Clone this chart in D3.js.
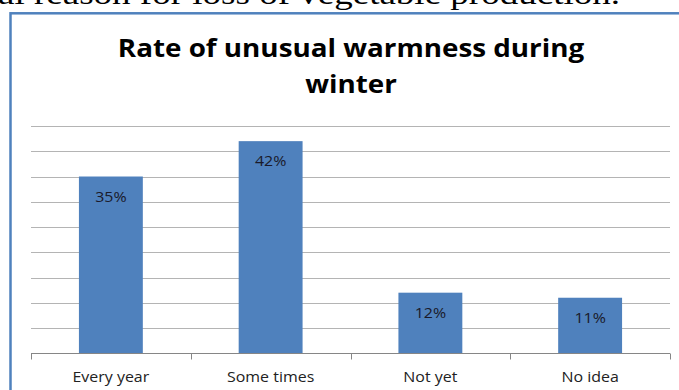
<!DOCTYPE html>
<html>
<head>
<meta charset="utf-8">
<script src="https://cdn.jsdelivr.net/npm/d3@7"></script>
<style>
  html, body { margin: 0; padding: 0; background: #fff; overflow: hidden; }
  svg { display: block; }
</style>
</head>
<body>
<svg id="chart" width="679" height="390"></svg>
<script>
// Survey answers and their shares (percent)
const categories = ["Every year", "Some times", "Not yet", "No idea"];
const shares = [35, 42, 12, 11];
const gridTicks = [5, 10, 15, 20, 25, 30, 35, 40, 45];
const titleLines = ["Rate of unusual warmness during", "winter"];
const captionTail = "al reason for loss of vegetable production.";

const plot = { left: 31, right: 670, top: 126, bottom: 353.3 };
const barColor = "#4F81BD";
const sans = "'Open Sans', sans-serif";

const svg = d3.select("#chart");

// Widen a text horizontally by a factor, keeping its anchor
function widen(sel, factor) {
  sel.each(function () {
    const w = this.getComputedTextLength();
    d3.select(this)
      .attr("textLength", w * factor)
      .attr("lengthAdjust", "spacingAndGlyphs");
  });
}

// Running document text above the chart frame
svg.append("text")
  .attr("x", -2).attr("y", 4)
  .attr("font-family", "'Liberation Serif', 'Times New Roman', serif")
  .attr("font-size", 30)
  .attr("fill", "#000")
  .attr("textLength", 622)
  .attr("lengthAdjust", "spacingAndGlyphs")
  .text(captionTail);

// Chart frame
svg.append("rect")
  .attr("x", 10.5).attr("y", 13.3)
  .attr("width", 800).attr("height", 500)
  .attr("fill", "#fff")
  .attr("stroke", barColor)
  .attr("stroke-width", 2.5);

// Title, two centred lines
svg.append("g")
  .selectAll("text")
  .data(titleLines)
  .join("text")
  .attr("x", 351)
  .attr("y", (d, i) => 57 + i * 36)
  .attr("text-anchor", "middle")
  .attr("font-family", sans)
  .attr("font-weight", "bold")
  .attr("font-size", 25.5)
  .attr("fill", "#000")
  .text(d => d)
  .call(widen, 1.09);

const x = d3.scaleBand()
  .domain(categories)
  .range([plot.left, plot.right])
  .paddingInner(0.6)
  .paddingOuter(0.3);

const y = d3.scaleLinear()
  .domain([0, 45])
  .range([plot.bottom, plot.top]);

// Horizontal gridlines
svg.append("g")
  .selectAll("line")
  .data(gridTicks)
  .join("line")
  .attr("x1", plot.left).attr("x2", plot.right)
  .attr("y1", d => Math.round(y(d)) + 0.5)
  .attr("y2", d => Math.round(y(d)) + 0.5)
  .attr("stroke", "#B4B4B4")
  .attr("stroke-width", 1);

// Bars
svg.append("g")
  .selectAll("rect")
  .data(categories)
  .join("rect")
  .attr("x", d => x(d))
  .attr("width", x.bandwidth())
  .attr("y", (d, i) => y(shares[i]))
  .attr("height", (d, i) => y(0) - y(shares[i]))
  .attr("fill", barColor);

// Value labels inside the bars
svg.append("g")
  .selectAll("text")
  .data(categories)
  .join("text")
  .attr("x", d => x(d) + x.bandwidth() / 2)
  .attr("y", (d, i) => y(shares[i]) + 25)
  .attr("text-anchor", "middle")
  .attr("font-family", sans)
  .attr("font-size", 14.5)
  .attr("fill", "#1A1A2A")
  .text((d, i) => shares[i] + "%")
  .call(widen, 1.1);

// Category axis: baseline, boundary ticks and labels
const axisG = svg.append("g");
const base = Math.round(y(0)) + 0.5;
axisG.append("line")
  .attr("x1", plot.left).attr("x2", plot.right)
  .attr("y1", base).attr("y2", base)
  .attr("stroke", "#868686");
const step = x.step();
const bounds = d3.range(categories.length + 1).map(i => plot.left + i * step);
axisG.selectAll("line.tick")
  .data(bounds)
  .join("line")
  .attr("class", "tick")
  .attr("x1", d => Math.round(d) + 0.5).attr("x2", d => Math.round(d) + 0.5)
  .attr("y1", base).attr("y2", base + 6)
  .attr("stroke", "#868686");
axisG.selectAll("text")
  .data(categories)
  .join("text")
  .attr("x", d => x(d) + x.bandwidth() / 2)
  .attr("y", 382)
  .attr("text-anchor", "middle")
  .attr("font-family", sans)
  .attr("font-size", 14.5)
  .attr("fill", "#222")
  .text(d => d)
  .call(widen, 1.1);
</script>
</body>
</html>
